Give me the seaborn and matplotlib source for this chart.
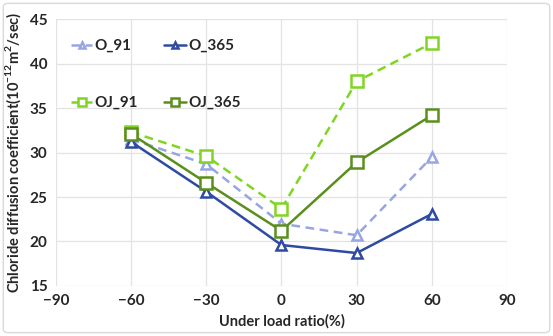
import matplotlib
matplotlib.use("Agg")
import matplotlib.pyplot as plt
import seaborn as sns
import pandas as pd
from matplotlib.patches import FancyBboxPatch

# Under-load ratio (%)
load_ratio = [-60, -30, 0, 30, 60]

# Chloride diffusion coefficient (1e-12 m^2/sec)
o_91 = [31.5, 28.7, 22.0, 20.7, 29.5]
o_365 = [31.2, 25.6, 19.6, 18.7, 23.1]
oj_91 = [32.3, 29.6, 23.7, 38.0, 42.3]
oj_365 = [32.1, 26.6, 21.2, 28.9, 34.2]

series_names = ["O_91", "O_365", "OJ_91", "OJ_365"]
series_values = [o_91, o_365, oj_91, oj_365]

x_ticks = [-90, -60, -30, 0, 30, 60, 90]
y_ticks = [15, 20, 25, 30, 35, 40, 45]

frames = []
for name, vals in zip(series_names, series_values):
    frames.append(pd.DataFrame({"ratio": load_ratio, "D": vals, "series": name}))
df = pd.concat(frames, ignore_index=True)

sns.set_theme(style="white")
plt.rcParams["font.family"] = ["Lato", "DejaVu Sans"]
plt.rcParams["mathtext.fontset"] = "custom"
plt.rcParams["mathtext.rm"] = "Lato:bold"
plt.rcParams["mathtext.bf"] = "Lato:bold"

fig = plt.figure(figsize=(5.53, 3.36), dpi=100)
ax = fig.add_axes([0.101, 0.149, 0.816, 0.794])

styles = {
    "O_91": dict(color="#97A6E2", dashes=(3.5, 2.2), marker="^", ms=7),
    "O_365": dict(color="#2E4AA3", dashes=None, marker="^", ms=7),
    "OJ_91": dict(color="#80D523", dashes=(3.5, 2.2), marker="s", ms=8),
    "OJ_365": dict(color="#5A8F1C", dashes=None, marker="s", ms=8),
}

handles = {}
for name in series_names:
    st = styles[name]
    sub = df[df["series"] == name]
    sns.lineplot(
        data=sub, x="ratio", y="D", ax=ax, color=st["color"], linewidth=1.8,
        marker=st["marker"], markersize=st["ms"], markerfacecolor="white",
        markeredgecolor=st["color"], markeredgewidth=1.8, label=name,
        zorder=3,
    )
    line = ax.get_lines()[-1]
    if st["dashes"] is not None:
        line.set_dashes(st["dashes"])
    handles[name] = line

ax.set_xlim(-90, 90)
ax.set_ylim(15, 45)
ax.set_xticks(x_ticks)
ax.set_yticks(y_ticks)
ax.grid(True, color="#E3E3E3", linewidth=0.9)
for s in ax.spines.values():
    s.set_visible(False)
ax.tick_params(axis="both", length=0, labelsize=11, pad=6)
for lbl in ax.get_xticklabels() + ax.get_yticklabels():
    lbl.set_fontweight("bold")

ax.set_xlabel("Under load ratio(%)", fontsize=10.5, fontweight="bold", labelpad=4)
ax.set_ylabel(r"Chloride diffusion coefficient(10$^{-12}$m$^{2}$/sec)",
              fontsize=10.5, fontweight="bold", labelpad=5)

# row-wise legend: O_91, O_365 on top, OJ_91, OJ_365 below
order = ["O_91", "OJ_91", "O_365", "OJ_365"]
leg = ax.legend([handles[n] for n in order], order, ncol=2, loc="upper left",
                bbox_to_anchor=(0.01, 0.965), frameon=False, fontsize=11,
                handlelength=1.4, handletextpad=0.15, markerscale=0.7,
                columnspacing=1.7, labelspacing=2.8, borderaxespad=0.3)
for t in leg.get_texts():
    t.set_fontweight("bold")

# light outer frame around the whole chart
fig.patches.append(FancyBboxPatch((0.006, 0.01), 0.988, 0.98,
                                  boxstyle="round,pad=0,rounding_size=0.01",
                                  transform=fig.transFigure, fill=False,
                                  edgecolor="#D9D9D9", linewidth=1.0))

fig.savefig("out.png", dpi=100)
